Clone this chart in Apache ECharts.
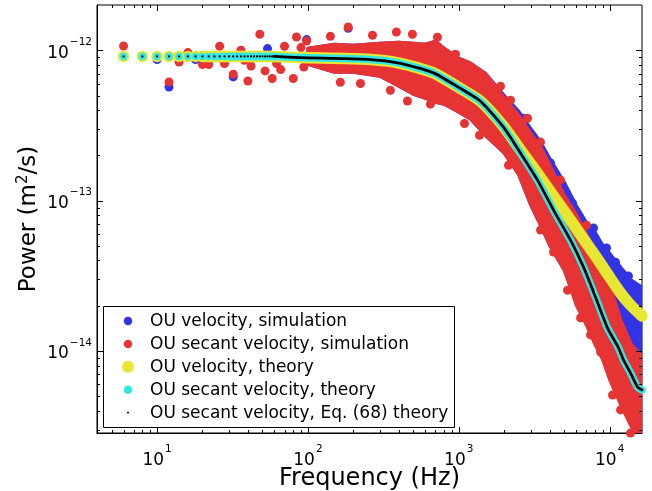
<!DOCTYPE html>
<html><head><meta charset="utf-8">
<script src="https://cdn.jsdelivr.net/npm/echarts@6/dist/echarts.min.js"></script>
<style>html,body{margin:0;padding:0;background:#fff}#c{width:652px;height:491px}</style>
</head><body><div id="c"></div>
<script>
// ---------------- data ----------------
const legendLabels = ['OU velocity, simulation', 'OU secant velocity, simulation', 'OU velocity, theory', 'OU secant velocity, theory', 'OU secant velocity, Eq. (68) theory'];
const xMajorTicks = [10, 100, 1000, 10000];
const xMinorTicks = [5,6,7,8,9,20,30,40,50,60,70,80,90,200,300,400,500,600,700,800,900,2000,3000,4000,5000,6000,7000,8000,9000];
const yMajorTicks = [1e-14, 1e-13, 1e-12];
const yMinorTicks = [3e-15,4e-15,5e-15,6e-15,7e-15,8e-15,9e-15,2e-14,3e-14,4e-14,5e-14,6e-14,7e-14,8e-14,9e-14,2e-13,3e-13,4e-13,5e-13,6e-13,7e-13,8e-13,9e-13];

// theory: low-frequency discrete points
const plateauFreq = [6,8,10,12,14,16,18,20,22,24,26,28,30,32,34,36,38,40,42,44,46,48,50,52,54,56,58,60];
const plateauPower = [9.1e-13,9.1e-13,9.1e-13,9.1e-13,9.1e-13,9.1e-13,9.1e-13,9.1e-13,9.1e-13,9.1e-13,9.1e-13,9.1e-13,9.1e-13,9.1e-13,9.1e-13,9.1e-13,9.1e-13,9.1e-13,9.1e-13,9.1e-13,9.1e-13,9.1e-13,9.1e-13,9.1e-13,9.1e-13,9.1e-13,9.1e-13,9.1e-13];
// secant velocity theory (cyan / black)
const secFreq = [20, 30, 60, 89, 248, 411, 680, 1026, 1393, 1979, 2566, 3326, 4246, 5505, 6713, 8063, 9685, 11285, 12370, 13760, 15310, 16384];
const secTheory = [9.1e-13, 9.1e-13, 9.1e-13, 8.94e-13, 8.71e-13, 8.19e-13, 7.07e-13, 5.57e-13, 4.58e-13, 3.08e-13, 2.07e-13, 1.37e-13, 8.65e-14, 5.46e-14, 3.61e-14, 2.28e-14, 1.42e-14, 1.08e-14, 8.71e-15, 7.14e-15, 5.76e-15, 5.51e-15];
// velocity theory (yellow)
const velFreq = [20, 60, 89, 248, 411, 680, 1026, 1393, 1979, 2566, 3326, 4246, 5505, 6713, 8063, 9685, 11810, 13760, 16384];
const velTheory = [9.1e-13, 9.1e-13, 8.94e-13, 8.71e-13, 8.19e-13, 7.07e-13, 5.57e-13, 4.58e-13, 3.12e-13, 2.17e-13, 1.52e-13, 1.07e-13, 7.42e-14, 5.55e-14, 4.28e-14, 3.25e-14, 2.43e-14, 2.02e-14, 1.71e-14];

// simulation clouds: dense-region envelopes
const envFreq = [100,150,200,300,400,500,600,700,800,1000,1200,1500,2000,2500,3000,3500,4000,5000,6000,7000,8000,9000,10000,12000,14000,16384];
const redUpper = [1.031e-12,1.096e-12,1.080e-12,1.113e-12,1.130e-12,1.113e-12,1.096e-12,1.148e-12,1.031e-12,8.85e-13,8.20e-13,7.03e-13,4.87e-13,3.70e-13,2.81e-13,2.27e-13,1.75e-13,1.09e-13,8.13e-14,6.08e-14,4.69e-14,3.67e-14,2.79e-14,1.56e-14,1.10e-14,9.26e-15];
const redLower = [8.07e-13,7.14e-13,7.14e-13,6.72e-13,5.77e-13,5.10e-13,4.80e-13,4.51e-13,4.38e-13,3.87e-13,3.48e-13,2.72e-13,2.07e-13,1.48e-13,9.33e-14,6.77e-14,5.06e-14,3.45e-14,2.02e-14,1.49e-14,1.10e-14,8.71e-15,6.42e-15,4.25e-15,3.08e-15,2.56e-15];
const blueUpper = [1.031e-12,1.096e-12,1.080e-12,1.113e-12,1.130e-12,1.113e-12,1.096e-12,1.148e-12,1.031e-12,8.85e-13,8.20e-13,7.03e-13,5.02e-13,3.93e-13,3.03e-13,2.45e-13,1.92e-13,1.33e-13,9.33e-14,7.20e-14,6.18e-14,5.06e-14,4.48e-14,3.56e-14,2.96e-14,2.66e-14];
const blueLower = [8.07e-13,7.14e-13,7.14e-13,6.72e-13,5.77e-13,5.10e-13,4.80e-13,4.51e-13,4.38e-13,3.87e-13,3.48e-13,2.72e-13,2.07e-13,1.48e-13,9.33e-14,6.77e-14,5.06e-14,3.45e-14,2.18e-14,1.87e-14,1.61e-14,1.38e-14,1.28e-14,1.18e-14,9.85e-15,8.99e-15];

// simulation clouds: individual (sparse / outlying) points
const redPtFreq = [6,12,14,16,20,22,26,28,32,36,38,40,42,48,52,58,62,66,70,80,84,90,94,98,141,185,223,268,386,457,493,722,951,1091,1372,1890,2855,4726,7028,164,352,649,1393,2136,3482,5259,7469,10450,13760,2566,4246,6413,8703,11810,2202,3482];
const redPtPower = [1.068e-12,6.16e-13,8.36e-13,9.65e-13,8.04e-13,8.04e-13,1.063e-12,8.16e-13,6.93e-13,1.0e-12,8.58e-13,6.25e-13,7.86e-13,1.277e-12,7.29e-13,6.49e-13,8.16e-13,7.44e-13,1.063e-12,6.49e-13,1.226e-12,1.042e-12,7.74e-13,1.153e-12,1.238e-12,1.428e-12,6.01e-13,1.258e-12,1.323e-12,4.60e-13,1.277e-12,1.220e-12,9.41e-13,3.26e-13,2.72e-13,5.77e-13,3.53e-13,1.37e-13,6.87e-14,6.13e-13,5.42e-13,4.38e-13,3.18e-13,1.72e-13,6.37e-14,2.54e-14,1.28e-14,5.10e-15,2.85e-15,1.67e-13,4.55e-14,1.66e-14,9.85e-15,4.06e-15,4.65e-13,2.45e-13];
const bluePtFreq = [10,12,18,32,54,98,185,2685,4056,7822,9536,4514,5675,10930,13330];
const bluePtPower = [8.67e-13,5.70e-13,8.67e-13,6.65e-13,1.026e-12,1.178e-12,1.40e-12,3.53e-13,1.78e-13,6.57e-14,4.84e-14,1.41e-13,9.63e-14,3.90e-14,3.15e-14];

// ---------------- styling ----------------
const FONT = '"DejaVu Sans", "Liberation Sans", Arial, sans-serif';
const C_BLUE = '#3333e6', C_RED = '#e63333', C_YEL = '#e6e633', C_CYAN = '#33e6e6', C_BLK = '#000000';

const zip = (a, b) => a.map((v, i) => [v, b[i]]);

function band(color, F, up, lo, z) {
  return {
    type: 'custom', z, clip: true, silent: true,
    data: F.map((f, i) => [f, up[i], lo[i]]),
    encode: { x: 0, y: [1, 2] },
    renderItem(params, api) {
      if (params.dataIndex !== 0) return null;
      const pts = [];
      for (let i = 0; i < F.length; i++) pts.push(api.coord([F[i], up[i]]));
      for (let i = F.length - 1; i >= 0; i--) pts.push(api.coord([F[i], lo[i]]));
      return { type: 'polygon', shape: { points: pts }, style: { fill: color, stroke: color, lineWidth: 3, lineJoin: 'round' } };
    }
  };
}

function tickSeries(values, isX, len) {
  return {
    type: 'custom', z: 30, silent: true, clip: false,
    data: values.map(v => isX ? [v, 1e-13] : [100, v]),
    renderItem(params, api) {
      const cs = params.coordSys;
      const p = api.coord([api.value(0), api.value(1)]);
      const st = { stroke: '#000', lineWidth: 1 };
      if (isX) {
        const x = Math.round(p[0]) + 0.5;
        return { type: 'group', children: [
          { type: 'line', shape: { x1: x, y1: cs.y + cs.height, x2: x, y2: cs.y + cs.height - len }, style: st },
          { type: 'line', shape: { x1: x, y1: cs.y, x2: x, y2: cs.y + len }, style: st }
        ]};
      } else {
        const y = Math.round(p[1]) + 0.5;
        return { type: 'group', children: [
          { type: 'line', shape: { x1: cs.x, y1: y, x2: cs.x + len, y2: y }, style: st },
          { type: 'line', shape: { x1: cs.x + cs.width, y1: y, x2: cs.x + cs.width - len, y2: y }, style: st }
        ]};
      }
    }
  };
}

function powLabel(v) {
  const e = Math.log10(v), r = Math.round(e);
  if (Math.abs(e - r) > 1e-6) return '';
  return '{b|10}{s|' + String(r).replace('-', '\u2212') + '}';
}
const labelRich = {
  b: { fontSize: 17, fontFamily: FONT, color: '#000', padding: [6, 0, 0, 0] },
  s: { fontSize: 10.5, fontFamily: FONT, color: '#000', padding: [0, 0, 16, 1] }
};

const legendRows = [
  { color: C_BLUE, size: 8.5 },
  { color: C_RED, size: 8.5 },
  { color: C_YEL, size: 12 },
  { color: C_CYAN, size: 8.5 },
  { color: C_BLK, size: 2 }
];
const graphic = [{ type: 'rect', z: 100, shape: { x: 103.5, y: 306.5, width: 351, height: 121 }, style: { fill: '#fff', stroke: '#000', lineWidth: 1 } }];
legendLabels.forEach((t, i) => {
  const cy = 321 + i * 22.9;
  graphic.push({ type: 'circle', z: 101, shape: { cx: 128, cy, r: legendRows[i].size / 2 }, style: { fill: legendRows[i].color } });
  graphic.push({ type: 'text', z: 101, x: 150, y: cy + 0.5, style: { text: t, font: '17px ' + FONT, fill: '#000', verticalAlign: 'middle', textAlign: 'left' } });
});

const option = {
  animation: false,
  backgroundColor: '#fff',
  grid: { left: 97, right: 10, top: 5, bottom: 58, containLabel: false, outerBoundsMode: 'none', show: true, borderColor: '#000', borderWidth: 1, backgroundColor: 'transparent' },
  xAxis: {
    type: 'log', logBase: 10, min: 4, max: 16384,
    axisLine: { show: true, lineStyle: { color: '#000', width: 1 } },
    axisTick: { show: false }, splitLine: { show: false }, minorTick: { show: false },
    axisLabel: { margin: 11, formatter: powLabel, rich: labelRich },
    name: 'Frequency (Hz)', nameLocation: 'middle', nameGap: 34, nameMoveOverlap: false,
    nameTextStyle: { fontSize: 24, fontFamily: FONT, color: '#000' }
  },
  yAxis: {
    type: 'log', logBase: 10, min: 2.85e-15, max: 2e-12,
    axisLine: { show: true, lineStyle: { color: '#000', width: 1 } },
    axisTick: { show: false }, splitLine: { show: false }, minorTick: { show: false },
    axisLabel: { margin: 5, formatter: powLabel, rich: labelRich },
    name: 'Power (m{s|2}/s)', nameLocation: 'middle', nameGap: 54, nameMoveOverlap: false,
    nameTextStyle: { fontSize: 23, fontFamily: FONT, color: '#000', rich: { s: { fontSize: 15, fontFamily: FONT, color: '#000', padding: [0, 0, 12, 0] } } }
  },
  graphic,
  series: [
    band(C_BLUE, envFreq, blueUpper, blueLower, 1),
    { type: 'scatter', z: 1, silent: true, data: zip(bluePtFreq, bluePtPower), symbol: 'circle', symbolSize: 9, itemStyle: { color: C_BLUE, opacity: 1 } },
    band(C_RED, envFreq, redUpper, redLower, 2),
    { type: 'scatter', z: 2, silent: true, data: zip(redPtFreq, redPtPower), symbol: 'circle', symbolSize: 9, itemStyle: { color: C_RED, opacity: 1 } },
    { type: 'scatter', z: 3, silent: true, data: zip(plateauFreq, plateauPower), symbol: 'circle', symbolSize: 11.5, itemStyle: { color: C_YEL, opacity: 1 } },
    { type: 'line', z: 3, silent: true, data: zip(velFreq, velTheory), showSymbol: false, smooth: 0.2, lineStyle: { color: C_YEL, width: 11.5, cap: 'round', join: 'round' } },
    { type: 'scatter', z: 4, silent: true, data: zip(plateauFreq, plateauPower), symbol: 'circle', symbolSize: 7.5, itemStyle: { color: C_CYAN, opacity: 1 } },
    { type: 'line', z: 4, silent: true, data: zip(secFreq.slice(1), secTheory.slice(1)), showSymbol: false, smooth: 0.2, lineStyle: { color: C_CYAN, width: 7.5, cap: 'round', join: 'round' } },
    { type: 'scatter', z: 5, silent: true, data: zip(plateauFreq, plateauPower), symbol: 'circle', symbolSize: 2.2, itemStyle: { color: C_BLK, opacity: 1 } },
    { type: 'line', z: 5, silent: true, data: zip(secFreq.slice(2), secTheory.slice(2)), showSymbol: false, smooth: 0.2, lineStyle: { color: C_BLK, width: 2.8, cap: 'round', join: 'round' } },
    tickSeries(xMajorTicks, true, 6),
    tickSeries(xMinorTicks, true, 3),
    tickSeries(yMajorTicks, false, 6),
    tickSeries(yMinorTicks, false, 3)
  ]
};
const chart = echarts.init(document.getElementById('c'), null, { renderer: 'canvas', width: 652, height: 491 });
chart.setOption(option);
</script>
</body></html>
